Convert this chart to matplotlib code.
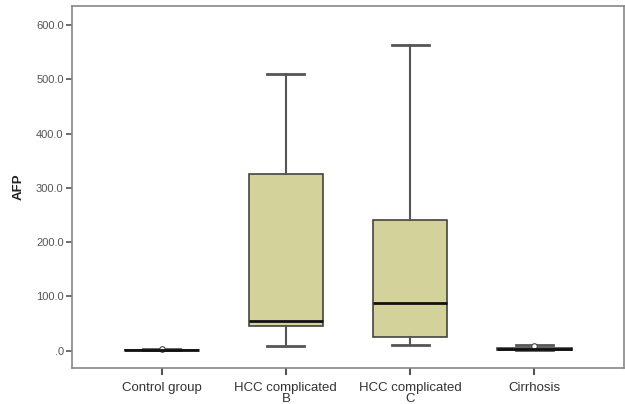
import matplotlib.pyplot as plt
from matplotlib.ticker import FuncFormatter

plt.rcParams["font.family"] = ["Liberation Sans", "DejaVu Sans"]

# valores
grupos = ["Control group", "HCC complicated\nB", "HCC complicated\nC", "Cirrhosis"]
bigote_inf = [0.3, 9, 10, 1.0]
q1 = [0.8, 46, 26, 2.0]
mediana = [1.2, 55, 88, 3.0]
q3 = [2.0, 325, 240, 5.0]
bigote_sup = [3.5, 510, 563, 10.0]
atipicos = [[2.5], [], [], [8.0]]

stats = []
for i in range(len(grupos)):
    stats.append(dict(whislo=bigote_inf[i], q1=q1[i], med=mediana[i], q3=q3[i],
                      whishi=bigote_sup[i], fliers=atipicos[i]))

fig = plt.figure(figsize=(6.25, 4.04), dpi=100)
ax = fig.add_axes([0.1152, 0.0891, 0.8832, 0.896])

ax.bxp(stats, positions=range(1, 5), widths=0.6, patch_artist=True,
       boxprops=dict(facecolor="#d3d29b", edgecolor="#444444", linewidth=1.2),
       medianprops=dict(color="#111111", linewidth=2),
       whiskerprops=dict(color="#555555", linewidth=1.5),
       capprops=dict(color="#555555", linewidth=2),
       capwidths=0.3,
       flierprops=dict(marker="o", markersize=4, markerfacecolor="white",
                       markeredgecolor="#444444", markeredgewidth=0.8))

ax.set_xlim(0.28, 4.72)
ax.set_ylim(-32, 635)
ax.set_yticks([0, 100, 200, 300, 400, 500, 600])
ax.yaxis.set_major_formatter(FuncFormatter(lambda v, p: ".0" if v == 0 else "%.1f" % v))
ax.set_xticks(range(1, 5))
ax.set_xticklabels(grupos, fontsize=9.5, linespacing=0.85)
ax.tick_params(colors="#555555", which="both")
ax.tick_params(axis="y", labelsize=8, length=4, width=1.2, pad=2)
ax.tick_params(axis="x", length=5, width=1.5, pad=5)
for lab in ax.get_xticklabels():
    lab.set_color("#333333")
ax.set_ylabel("AFP", fontsize=9.5, fontweight="bold", color="#222222", labelpad=8)

for s in ax.spines.values():
    s.set_color("#888888")
    s.set_linewidth(1.2)

fig.savefig("out.png", dpi=100)
